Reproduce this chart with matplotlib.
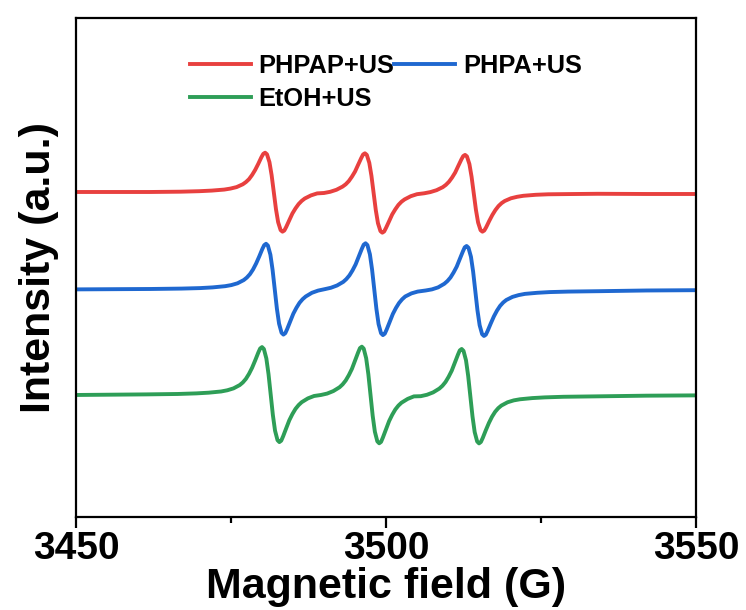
import matplotlib
matplotlib.use("Agg")
import matplotlib.pyplot as plt
from matplotlib.ticker import MultipleLocator

plt.rcParams['font.family'] = ['Liberation Sans', 'DejaVu Sans']
plt.rcParams['font.weight'] = 'bold'

# PHPAP+US (red)
field_phpap = [3450, 3461.9, 3466.9, 3469.9, 3471.9,
               3473.9, 3474.9, 3475.9, 3476.9, 3477.4, 3477.9, 3478.4, 3478.9, 3479.4, 3479.9, 3480.2, 3480.5,
               3480.8, 3481.2, 3481.55, 3481.9, 3482.25, 3482.6, 3483.0, 3483.3, 3483.6, 3483.9, 3484.4, 3484.9,
               3485.4, 3485.9, 3486.4, 3486.9, 3487.9, 3488.9,
               3490.0, 3491.0, 3492.0, 3493.0, 3493.5, 3494.0, 3494.5, 3495.0, 3495.5, 3496.0, 3496.3, 3496.6,
               3496.9, 3497.3, 3497.65, 3498.0, 3498.35, 3498.7, 3499.1, 3499.4, 3499.7, 3500.0, 3500.5, 3501.0,
               3501.5, 3502.0, 3502.5, 3503.0, 3504.0, 3505.0,
               3506.15, 3507.15, 3508.15, 3509.15, 3509.65, 3510.15, 3510.65, 3511.15, 3511.65, 3512.15, 3512.45, 3512.75,
               3513.05, 3513.45, 3513.8, 3514.15, 3514.5, 3514.85, 3515.25, 3515.55, 3515.85, 3516.15, 3516.65, 3517.15,
               3517.65, 3518.15, 3518.65, 3519.15, 3520.15, 3521.15, 3522.15, 3524.15, 3526.15, 3529.15, 3534.15,
               3542, 3550]
int_phpap = [332.0, 332.0, 332.3, 332.8, 333.4,
             334.4, 335.4, 336.9, 339.7, 341.9, 344.8, 349.0, 354.1, 360.2, 366.8, 370.1, 371.3,
             369.7, 361.8, 348.8, 331.8, 314.8, 301.8, 293.9, 292.3, 293.5, 297.0, 303.8, 310.5,
             315.6, 319.9, 323.1, 325.5, 328.6, 330.6,
             331.0, 332.2, 334.2, 337.4, 339.7, 342.9, 347.3, 352.4, 359.2, 365.9, 369.5, 370.7,
             369.1, 361.2, 348.1, 331.0, 313.9, 300.8, 292.9, 291.3, 292.5, 296.1, 302.8, 309.6,
             314.7, 319.1, 322.3, 324.6, 327.8, 329.8,
             330.7, 331.9, 333.8, 336.8, 339.1, 342.2, 346.4, 351.4, 358.0, 364.5, 367.9, 369.1,
             367.6, 359.9, 347.2, 330.7, 314.2, 301.5, 293.8, 292.3, 293.5, 296.7, 303.1, 309.0,
             314.0, 318.0, 320.9, 323.0, 325.7, 327.2, 328.2, 329.2, 329.7, 329.9, 330.2,
             330.0, 330.0]

# PHPA+US (blue)
field_phpa = [3450, 3462.05, 3467.05, 3470.05, 3472.05,
              3474.05, 3475.05, 3476.05, 3477.05, 3477.55, 3478.05, 3478.55, 3479.05, 3479.55, 3480.05, 3480.35, 3480.65,
              3480.95, 3481.35, 3481.7, 3482.05, 3482.4, 3482.75, 3483.15, 3483.45, 3483.75, 3484.05, 3484.55, 3485.05,
              3485.55, 3486.05, 3486.55, 3487.05, 3488.05, 3489.05,
              3490.1, 3491.1, 3492.1, 3493.1, 3493.6, 3494.1, 3494.6, 3495.1, 3495.6, 3496.1, 3496.4, 3496.7,
              3497.0, 3497.4, 3497.75, 3498.1, 3498.45, 3498.8, 3499.2, 3499.5, 3499.8, 3500.1, 3500.6, 3501.1,
              3501.6, 3502.1, 3502.6, 3503.1, 3504.1, 3505.1,
              3506.4, 3507.4, 3508.4, 3509.4, 3509.9, 3510.4, 3510.9, 3511.4, 3511.9, 3512.4, 3512.7, 3513.0,
              3513.3, 3513.7, 3514.05, 3514.4, 3514.75, 3515.1, 3515.5, 3515.8, 3516.1, 3516.4, 3516.9, 3517.4,
              3517.9, 3518.4, 3518.9, 3519.4, 3520.4, 3521.4, 3522.4, 3524.4, 3526.4, 3529.4, 3534.4,
              3542, 3550]
int_phpa = [234.6, 235.0, 235.4, 235.9, 236.6,
            237.8, 238.9, 240.7, 243.9, 246.4, 249.8, 254.5, 260.5, 267.5, 275.0, 278.8, 280.2,
            278.4, 269.3, 254.3, 234.8, 215.3, 200.3, 191.2, 189.4, 190.8, 194.8, 202.6, 210.3,
            216.2, 221.2, 224.8, 227.5, 231.2, 233.4,
            234.8, 236.2, 238.5, 242.1, 244.9, 248.6, 253.6, 259.6, 267.4, 275.2, 279.3, 280.7,
            278.9, 269.7, 254.5, 234.8, 215.1, 199.9, 190.7, 188.9, 190.3, 194.4, 202.2, 210.0,
            216.0, 221.0, 224.7, 227.5, 230.6, 232.4,
            233.5, 234.6, 236.6, 240.2, 242.9, 246.5, 251.5, 257.3, 265.0, 272.6, 276.7, 278.0,
            276.2, 267.2, 252.4, 233.0, 213.6, 198.8, 189.8, 188.0, 189.3, 193.2, 200.6, 207.6,
            213.4, 218.1, 221.5, 224.0, 227.1, 228.9, 230.1, 231.2, 231.9, 232.4, 232.8,
            233.5, 233.8]

# EtOH+US (green)
field_etoh = [3450, 3461.4, 3466.4, 3469.4, 3471.4,
              3473.4, 3474.4, 3475.4, 3476.4, 3476.9, 3477.4, 3477.9, 3478.4, 3478.9, 3479.4, 3479.7, 3480.0,
              3480.3, 3480.7, 3481.05, 3481.4, 3481.75, 3482.1, 3482.5, 3482.8, 3483.1, 3483.4, 3483.9, 3484.4,
              3484.9, 3485.4, 3485.9, 3486.4, 3487.4, 3488.4,
              3489.5, 3490.5, 3491.5, 3492.5, 3493.0, 3493.5, 3494.0, 3494.5, 3495.0, 3495.5, 3495.8, 3496.1,
              3496.4, 3496.8, 3497.15, 3497.5, 3497.85, 3498.2, 3498.6, 3498.9, 3499.2, 3499.5, 3500.0, 3500.5,
              3501.0, 3501.5, 3502.0, 3502.5, 3503.5, 3504.5,
              3505.6, 3506.6, 3507.6, 3508.6, 3509.1, 3509.6, 3510.1, 3510.6, 3511.1, 3511.6, 3511.9, 3512.2,
              3512.5, 3512.9, 3513.25, 3513.6, 3513.95, 3514.3, 3514.7, 3515.0, 3515.3, 3515.6, 3516.1, 3516.6,
              3517.1, 3517.6, 3518.1, 3518.6, 3519.6, 3520.6, 3521.6, 3523.6, 3525.6, 3528.6, 3533.6,
              3542, 3550]
int_etoh = [129.0, 129.6, 130.0, 130.6, 131.3,
            132.5, 133.7, 135.6, 138.9, 141.5, 145.1, 150.1, 156.2, 163.6, 171.4, 175.5, 176.9,
            175.0, 165.5, 149.8, 129.4, 109.0, 93.3, 83.8, 81.9, 83.3, 87.6, 95.7, 103.7,
            109.9, 115.1, 118.9, 121.8, 125.6, 128.0,
            129.0, 130.4, 132.9, 136.7, 139.6, 143.5, 148.8, 155.1, 163.3, 171.5, 175.9, 177.3,
            175.4, 165.7, 149.8, 129.0, 108.2, 92.3, 82.6, 80.7, 82.1, 86.5, 94.7, 102.9,
            109.2, 114.5, 118.4, 121.3, 125.1, 127.6,
            127.8, 129.2, 131.6, 135.4, 138.2, 142.0, 147.2, 153.3, 161.3, 169.3, 173.6, 175.0,
            173.1, 163.7, 148.1, 127.8, 107.5, 91.9, 82.5, 80.6, 82.0, 86.0, 93.8, 101.1,
            107.3, 112.2, 115.8, 118.4, 121.7, 123.6, 124.7, 125.9, 126.6, 127.2, 127.6,
            128.3, 128.6]

fig = plt.figure(figsize=(7.46, 6.10), dpi=100)
ax = fig.add_axes([0.1019, 0.1525, 0.8311, 0.818])

l1, = ax.plot(field_phpap, int_phpap, color='#e8403f', lw=2.8, label='PHPAP+US')
l2, = ax.plot(field_phpa, int_phpa, color='#1f68d0', lw=2.8, label='PHPA+US')
l3, = ax.plot(field_etoh, int_etoh, color='#2e9e57', lw=2.8, label='EtOH+US')

ax.set_xlim(3450, 3550)
ax.set_ylim(7, 506)
ax.set_xticks([3450, 3500, 3550])
ax.xaxis.set_minor_locator(MultipleLocator(25))
ax.set_yticks([])
for s in ax.spines.values():
    s.set_linewidth(1.6)
ax.tick_params(axis='x', which='major', length=8, width=1.6, labelsize=28, pad=2)
ax.tick_params(axis='x', which='minor', length=4, width=1.6)

ax.set_xlabel('Magnetic field (G)', fontsize=31, fontweight='bold', labelpad=0)
ax.set_ylabel('Intensity (a.u.)', fontsize=31, fontweight='bold', labelpad=12)

# legend filled column by column: PHPAP / EtOH in the first column, PHPA in the second
ax.legend([l1, l3, l2], ['PHPAP+US', 'EtOH+US', 'PHPA+US'],
          loc='upper left', bbox_to_anchor=(0.155, 0.964), ncol=2, frameon=False,
          fontsize=18.3, handlelength=2.4, handletextpad=0.3, columnspacing=0.0,
          labelspacing=0.37, borderpad=0.2)

fig.savefig('out.png', dpi=100)
